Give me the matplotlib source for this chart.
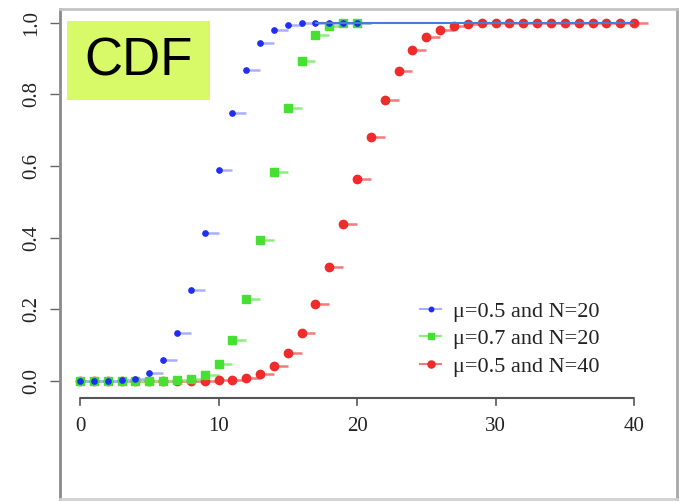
import matplotlib
matplotlib.use("Agg")
import matplotlib.pyplot as plt
from matplotlib.lines import Line2D
from matplotlib.patches import Rectangle

# ---- data ----
k_blue = list(range(0, 21))
cdf_blue = [0.000, 0.000, 0.000, 0.001, 0.006, 0.021, 0.058, 0.132, 0.252, 0.412,
            0.588, 0.748, 0.868, 0.942, 0.979, 0.994, 0.999, 1.000, 1.000, 1.000, 1.000]

k_green = list(range(0, 21))
cdf_green = [0.000, 0.000, 0.000, 0.000, 0.000, 0.000, 0.000, 0.001, 0.005, 0.017,
             0.048, 0.113, 0.228, 0.392, 0.584, 0.763, 0.893, 0.965, 0.992, 0.999, 1.000]

k_red = list(range(0, 41))
cdf_red = [0.000, 0.000, 0.000, 0.000, 0.000, 0.000, 0.000, 0.000, 0.000, 0.000,
           0.001, 0.003, 0.008, 0.019, 0.040, 0.077, 0.134, 0.215, 0.318, 0.437,
           0.563, 0.682, 0.785, 0.866, 0.923, 0.960, 0.981, 0.992, 0.997, 0.999,
           1.000, 1.000, 1.000, 1.000, 1.000, 1.000, 1.000, 1.000, 1.000, 1.000, 1.000]

labels = ["\u03bc=0.5 and N=20", "\u03bc=0.7 and N=20", "\u03bc=0.5 and N=40"]
x_ticks = [0, 10, 20, 30, 40]
y_ticks = [0.0, 0.2, 0.4, 0.6, 0.8, 1.0]
blue_line_start = 17
x_max = 40

# ---- styles ----
serif = "Liberation Serif"
W, H = 681, 501
fig = plt.figure(figsize=(W / 100, H / 100), dpi=100)
L, R, T, B = 60, 677, 9, 499
ax = fig.add_axes([L / W, 1 - B / H, (R - L) / W, (B - T) / H])
ax.set_xlim(-1.444, 43.10)
ax.set_ylim(-0.3304, 1.0383)

for side, col in [("left", "#8a8a8a"), ("top", "#c4c4c4"), ("right", "#a8a8a8"), ("bottom", "#d0d0d0")]:
    ax.spines[side].set_color(col)
    ax.spines[side].set_linewidth(2.0)

# series
series = [
    (k_red, cdf_red, "#ef2b2b", "#f47a7a", "o", 6.0),
    (k_green, cdf_green, "#45e031", "#8aee7e", "s", 5.2),
    (k_blue, cdf_blue, "#1f2ef2", "#a9b0ff", "o", 3.8),
]
for ks, ys, dark, light, mk, ms in series:
    ax.hlines(ys, ks, [k + 1 for k in ks], colors=light, linewidth=1.8, zorder=2)
    ax.plot(ks, ys, linestyle="none", marker=mk, color=dark, markersize=ms, zorder=3)

ax.hlines(1.0, blue_line_start, x_max, colors="#4a7ad8", linewidth=1.5, zorder=4)

# y ticks on the frame
ax.set_yticks(y_ticks)
ax.set_yticklabels([f"{v:.1f}" for v in y_ticks], rotation=90, va="center",
                   fontfamily=serif, fontsize=15, color="#222222")
ax.tick_params(axis="y", direction="out", length=7.2, width=1.0, color="#666666", pad=6.5)
ax.set_xticks([])

# detached x axis (R style)
y_axis = -0.0475
ax.plot([x_ticks[0], x_ticks[-1]], [y_axis, y_axis], color="#555555", linewidth=1.5,
        solid_capstyle="butt", zorder=2, clip_on=False)
for xt in x_ticks:
    ax.plot([xt, xt], [y_axis, y_axis - 0.02], color="#555555", linewidth=1.2, clip_on=False)
    ax.text(xt, y_axis - 0.08, str(xt), ha="center", va="center",
            fontfamily=serif, fontsize=15, color="#222222")

# legend
handles = []
for (ks, ys, dark, light, mk, ms), lab in zip(series[::-1], labels):
    handles.append(Line2D([], [], color=light, linewidth=1.5, marker=mk,
                          markerfacecolor=dark, markeredgecolor=dark,
                          markersize=ms * 0.85, label=lab))
leg = ax.legend(handles=handles, loc="upper left", bbox_to_anchor=(0.5835, 0.404),
                frameon=False, borderpad=0, borderaxespad=0, handlelength=0.95,
                handletextpad=0.55, labelspacing=0.32,
                prop={"family": serif, "size": 16})
for t in leg.get_texts():
    t.set_color("#222222")

# CDF label box
fig.patches.append(Rectangle((67 / W, 1 - 100 / H), 143 / W, 79 / H,
                             transform=fig.transFigure, facecolor="#d8fa68",
                             edgecolor="none", zorder=5))
fig.text(139 / W, 1 - 62 / H, "CDF", ha="center", va="center",
         fontfamily="Liberation Sans", fontsize=38, color="black", zorder=6)

fig.savefig("out.png", dpi=100)
